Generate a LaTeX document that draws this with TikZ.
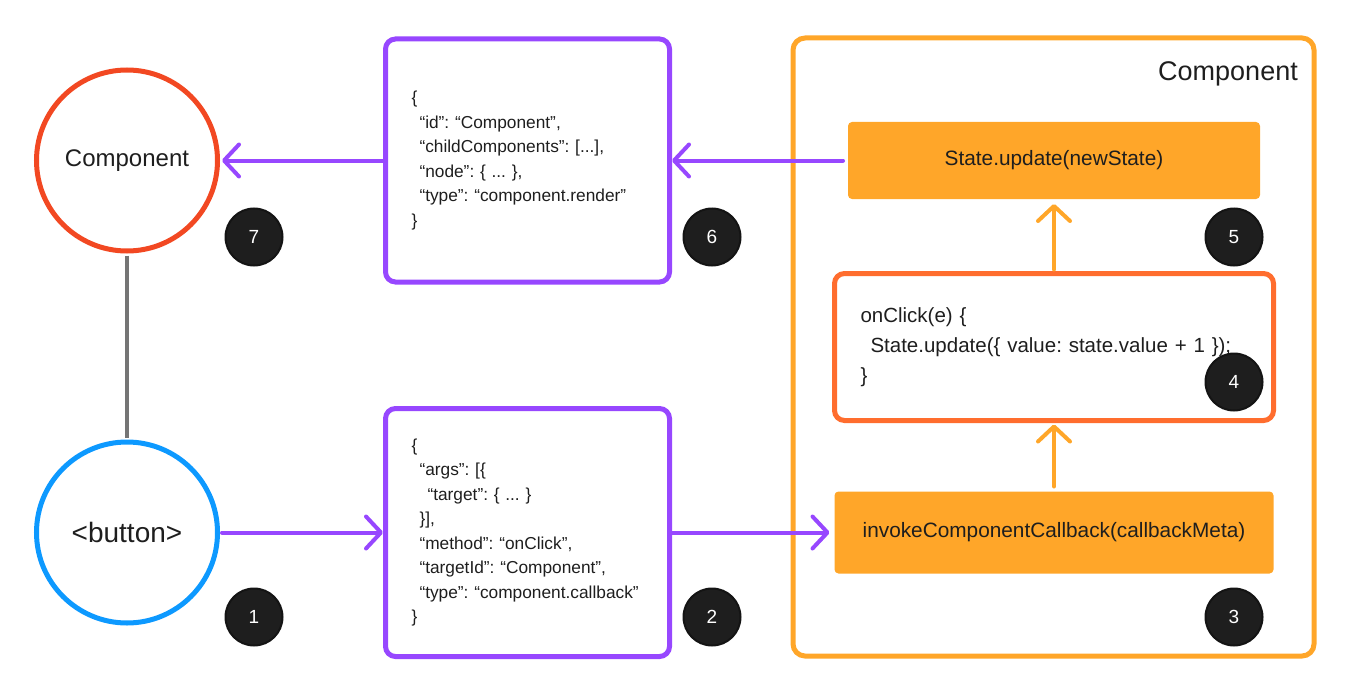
\documentclass[tikz,border=0pt]{standalone}
\usepackage{fontspec}
\setmainfont{Liberation Sans}
\usetikzlibrary{arrows.meta}
\definecolor{purp}{HTML}{9747FF}
\definecolor{compred}{HTML}{F24822}
\definecolor{btnblue}{HTML}{0D99FF}
\definecolor{orng}{HTML}{FFA629}
\definecolor{clickorng}{HTML}{FF6D2E}
\definecolor{linkgray}{HTML}{757575}
\definecolor{badgebg}{HTML}{1E1E1E}
\definecolor{txt}{HTML}{1E1E1E}
\frenchspacing
\begin{document}
\begin{tikzpicture}[x=1pt,y=-1pt,
  circnode/.style={circle,line width=5pt,minimum size=181pt,inner sep=0pt,outer sep=4.5pt,text=txt},
  jsonbox/.style={rectangle,draw=purp,line width=5pt,rounded corners=10pt,minimum width=284pt,minimum height=243pt,
     text width=232pt,inner xsep=26pt,align=left,text=txt,font=\fontsize{17.3}{24.5}\selectfont},
  fillbox/.style={rectangle,fill=orng,rounded corners=4pt,outer sep=5pt,text=txt,font=\fontsize{20.8}{25}\selectfont},
  badge/.style={circle,fill=badgebg,draw=black!92,line width=2pt,minimum size=57pt,inner sep=0pt,text=white,font=\fontsize{19}{22}\selectfont},
  parrow/.style={draw=purp,line width=4pt,line cap=round,-{Straight Barb[round,length=15pt,width=32pt]}},
  oarrow/.style={draw=orng,line width=4pt,line cap=round,-{Straight Barb[round,length=15pt,width=32pt]}}
]
\useasboundingbox (0,0) rectangle (1346,690);

% left circles
\node[circnode,draw=compred,font=\fontsize{24}{28}\selectfont] (comp) at (127,160.5) {Component};
\node[circnode,draw=btnblue,font=\fontsize{28}{32}\selectfont] (btn) at (127,532.5) {<button>};
\draw[linkgray,line width=4pt] (comp.south) -- (btn.north);

% JSON boxes
\node[jsonbox] (json1) at (527.5,160.5) {\{\\
\hspace*{8pt}“id”: “Component”,\\
\hspace*{8pt}“childComponents”: [...],\\
\hspace*{8pt}“node”: \{ ... \},\\
\hspace*{8pt}“type”: “component.render”\\
\}};
\node[jsonbox,minimum height=248pt] (json2) at (527.5,532.5) {\{\\
\hspace*{8pt}“args”: [\{\\
\hspace*{16pt}“target”: \{ ... \}\\
\hspace*{8pt}\}],\\
\hspace*{8pt}“method”: “onClick”,\\
\hspace*{8pt}“targetId”: “Component”,\\
\hspace*{8pt}“type”: “component.callback”\\
\}};

% container
\node[rectangle,draw=orng,line width=5pt,rounded corners=12pt,minimum width=521pt,minimum height=618pt] (cont) at (1053.5,347) {};
\node[anchor=east,text=txt,font=\fontsize{27}{30}\selectfont,inner sep=0pt] (contlabel) at (1298,74) {Component};

\node[fillbox,minimum width=412pt,minimum height=77pt] (upd) at (1054,160.5) {State.update(newState)};
\node[rectangle,draw=clickorng,line width=5pt,rounded corners=10pt,minimum width=439pt,minimum height=147pt,
      text width=387pt,inner xsep=26pt,outer sep=4pt,align=left,text=txt,font=\fontsize{20.5}{30}\selectfont] (click) at (1054,347)
  {onClick(e) \{\\ \hspace*{10pt}State.update(\{ value: state.value + 1 \});\\ \}};
\node[fillbox,minimum width=439pt,minimum height=82pt] (inv) at (1054,532.5) {invokeComponentCallback(callbackMeta)};

% arrows
\draw[parrow] (json1.west) -- (comp.east);
\draw[parrow] (upd.west) -- (json1.east);
\draw[parrow] (btn.east) -- (json2.west);
\draw[parrow] (json2.east) -- (inv.west);
\draw[oarrow] (inv.north) -- (click.south);
\draw[oarrow] (click.north) -- (upd.south);

% badges
\node[badge] (b7) at (254,237) {7};
\node[badge] (b6) at (712,237) {6};
\node[badge] (b5) at (1234,237) {5};
\node[badge] (b4) at (1234,382) {4};
\node[badge] (b1) at (254,617) {1};
\node[badge] (b2) at (712,617) {2};
\node[badge] (b3) at (1234,617) {3};
\end{tikzpicture}
\end{document}
